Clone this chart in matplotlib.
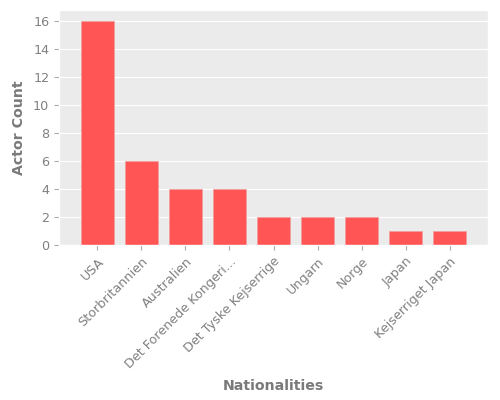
import matplotlib
matplotlib.use("Agg")
import matplotlib.pyplot as plt

plt.style.use("ggplot")

nationalities = ["USA", "Storbritannien", "Australien", "Det Forenede Kongeri...",
                 "Det Tyske Kejserrige", "Ungarn", "Norge", "Japan", "Kejserriget Japan"]
actor_counts = [16, 6, 4, 4, 2, 2, 2, 1, 1]

fig, ax = plt.subplots(figsize=(5, 4), dpi=100)
fig.subplots_adjust(left=0.118, right=0.976, top=0.975, bottom=0.3875)
ax.set_facecolor("#ebebeb")

ax.bar(range(len(nationalities)), actor_counts, width=0.75,
       color="#ff5555", edgecolor="#f0a0a0", linewidth=0.6)
ax.set_xlim(-0.87, len(nationalities) - 1 + 0.87)
ax.set_xticks(range(len(nationalities)))
ax.set_xticklabels(nationalities, rotation=45, ha="right", rotation_mode="anchor",
                   fontsize=9.2)
ax.tick_params(color="#aaaaaa", labelcolor="#808080", labelsize=9.2)
ax.set_xlabel("Nationalities", fontsize=10.2, fontweight="bold", color="#7a7a7a",
              labelpad=6)
ax.set_ylabel("Actor Count", fontsize=10.2, fontweight="bold", color="#7a7a7a",
              labelpad=5)
ax.grid(axis="x", visible=False)

fig.savefig("out.png")
